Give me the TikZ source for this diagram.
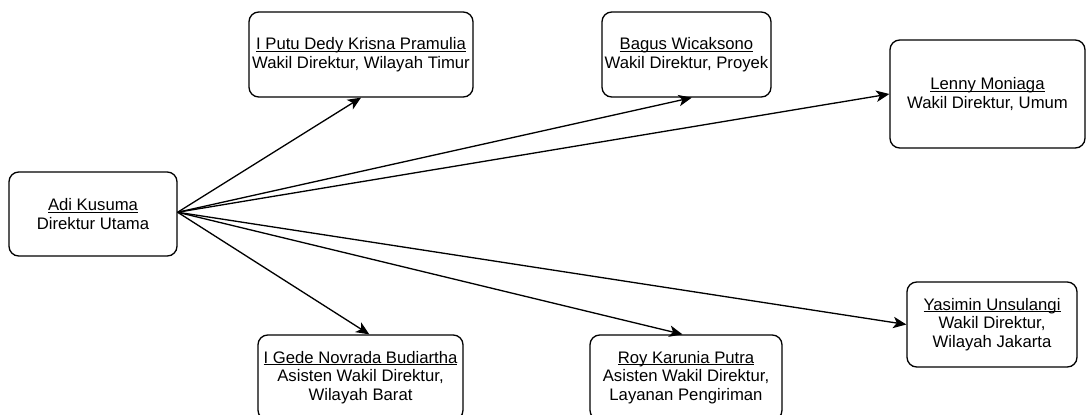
\documentclass[tikz,border=0pt]{standalone}
\usepackage{fontspec}
\setmainfont{Liberation Sans}
\usepackage{tikz}
\usetikzlibrary{arrows.meta}

% underline that sits just under the baseline
\newcommand\staffname[1]{\setbox0\hbox{#1}\rlap{\rule[-1.3pt]{\wd0}{0.6pt}}#1}

\begin{document}
\begin{tikzpicture}[x=0.02cm, y=-0.02cm,
		staffbox/.style={draw, rounded corners=5.5pt, line width=0.75pt, align=center,
			inner sep=1pt, font=\fontsize{9.5}{10.6}\selectfont},
		link/.style={line width=0.75pt, -{Stealth[length=7.5pt, width=6.5pt, inset=2pt]}}]

			\useasboundingbox (0,0) rectangle (1086,414);

			% direktur utama
			\node [staffbox, minimum width=3.36cm, minimum height=1.68cm] (adi) at (93,214) {\staffname{Adi Kusuma}\\Direktur Utama};

			% wakil direktur
			\node [staffbox, minimum width=4.48cm, minimum height=1.70cm] (putu) at (361,54.5) {\staffname{I Putu Dedy Krisna Pramulia}\\Wakil Direktur, Wilayah Timur};
			\node [staffbox, minimum width=3.38cm, minimum height=1.70cm] (bagus) at (686.5,54.5) {\staffname{Bagus Wicaksono}\\Wakil Direktur, Proyek};
			\node [staffbox, minimum width=3.90cm, minimum height=2.16cm] (lenny) at (987.5,94) {\staffname{Lenny Moniaga}\\Wakil Direktur, Umum};
			\node [staffbox, minimum width=3.40cm, minimum height=1.70cm] (yasimin) at (992,324.5) {\staffname{Yasimin Unsulangi}\\Wakil Direktur,\\Wilayah Jakarta};

			% asisten wakil direktur
			\node [staffbox, minimum width=4.10cm, minimum height=1.70cm] (gede) at (360.5,377.5) {\staffname{I Gede Novrada Budiartha}\\Asisten Wakil Direktur,\\Wilayah Barat};
			\node [staffbox, minimum width=3.84cm, minimum height=1.70cm] (roy) at (686,377.5) {\staffname{Roy Karunia Putra}\\Asisten Wakil Direktur,\\Layanan Pengiriman};

			\coordinate (root) at ([yshift=1pt]adi.east);

			\draw [link] (root) -- (putu.south);
			\draw [link] (root) -- ([xshift=3pt]bagus.south);
			\draw [link] (root) -- (lenny.west);
			\draw [link] (root) -- ([xshift=5pt]gede.north);
			\draw [link] (root) -- ([xshift=-2pt]roy.north);
			\draw [link] (root) -- (yasimin.west);

		\end{tikzpicture}
\end{document}
